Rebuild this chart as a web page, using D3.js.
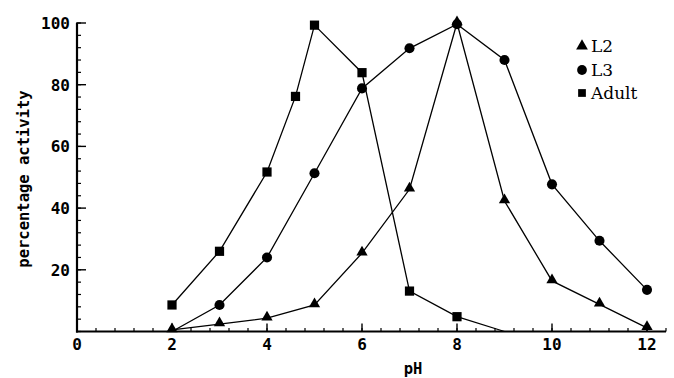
<!DOCTYPE html>
<html>
<head>
<meta charset="utf-8">
<script src="https://cdn.jsdelivr.net/npm/d3@7"></script>
<style>
  body { margin: 0; background: #fff; }
  svg { display: block; }
  .tick-label { font-family: "DejaVu Sans Mono", monospace; font-weight: bold; font-size: 16px; fill: #000; }
  .axis-title { font-family: "DejaVu Sans Mono", monospace; font-weight: bold; font-size: 15.5px; fill: #000; }
  .legend text { font-family: "DejaVu Serif", serif; font-size: 17px; fill: #000; }
</style>
</head>
<body>
<div id="chart"></div>
<script>
// pH values
const phL2 = [2, 3, 4, 5, 6, 7, 8, 9, 10, 11, 12];
const valL2 = [0.5, 2.4, 4.3, 8.6, 25.4, 46.1, 100, 42.3, 16.4, 8.8, 1.2];

const phL3 = [2, 3, 4, 5, 6, 7, 8, 9, 10, 11, 12];
const valL3 = [0, 8.6, 24, 51.3, 78.8, 91.8, 99.6, 88, 47.7, 29.4, 13.5];

const phAdult = [2, 3, 4, 4.6, 5, 6, 7, 8, 9];
const valAdult = [8.6, 26, 51.7, 76.2, 99.3, 83.9, 13.1, 4.8, 0];

const xTicks = [0, 2, 4, 6, 8, 10, 12];
const yTicks = [20, 40, 60, 80, 100];
const legendNames = ['L2', 'L3', 'Adult'];

const W = 674, H = 378;
const xAxisEnd = 12.4;

const svg = d3.select('#chart').append('svg')
  .attr('width', W).attr('height', H);

const x = d3.scaleLinear().domain([0, 12]).range([77, 647]);
const y = d3.scaleLinear().domain([0, 100]).range([331.5, 23]);

// -- axes
const minorX = d3.range(0, xAxisEnd + 0.001, 0.4);
const minorY = d3.range(0, 100.001, 4);

const gx = svg.append('g').attr('transform', 'translate(0,' + y(0) + ')');
gx.selectAll('.minor').data(minorX).enter().append('line')
  .attr('x1', d => x(d)).attr('x2', d => x(d))
  .attr('y1', 0).attr('y2', -3.5)
  .attr('stroke', '#000').attr('stroke-width', 1.2);
gx.selectAll('.major').data(xTicks).enter().append('line')
  .attr('x1', d => x(d)).attr('x2', d => x(d))
  .attr('y1', 0).attr('y2', -8)
  .attr('stroke', '#000').attr('stroke-width', 1.4);
gx.append('line')
  .attr('x1', x(0) - 1).attr('x2', x(xAxisEnd))
  .attr('stroke', '#000').attr('stroke-width', 2.2);
gx.selectAll('.tick-label').data(xTicks).enter().append('text')
  .attr('class', 'tick-label')
  .attr('x', d => x(d)).attr('y', 18)
  .attr('text-anchor', 'middle')
  .text(d => d);

const gy = svg.append('g').attr('transform', 'translate(' + x(0) + ',0)');
gy.selectAll('.minor').data(minorY).enter().append('line')
  .attr('y1', d => y(d)).attr('y2', d => y(d))
  .attr('x1', -1).attr('x2', 4)
  .attr('stroke', '#000').attr('stroke-width', 1.2);
gy.selectAll('.major').data(yTicks).enter().append('line')
  .attr('y1', d => y(d)).attr('y2', d => y(d))
  .attr('x1', 0).attr('x2', 9)
  .attr('stroke', '#000').attr('stroke-width', 1.4);
gy.append('line')
  .attr('y1', y(0) + 1).attr('y2', y(100))
  .attr('stroke', '#000').attr('stroke-width', 2.2);
gy.selectAll('.tick-label').data(yTicks).enter().append('text')
  .attr('class', 'tick-label')
  .attr('x', -7).attr('y', d => y(d) + 6)
  .attr('text-anchor', 'end')
  .text(d => d);

svg.append('text').attr('class', 'axis-title')
  .attr('transform', 'translate(29,' + 179 + ') rotate(-90)')
  .attr('text-anchor', 'middle')
  .text('percentage activity');

svg.append('text').attr('class', 'axis-title')
  .attr('x', 413).attr('y', 374)
  .attr('text-anchor', 'middle')
  .text('pH');

// -- lines and markers
const series = [
  {name: 'L2', xs: phL2, ys: valL2, shape: 'triangle'},
  {name: 'L3', xs: phL3, ys: valL3, shape: 'circle'},
  {name: 'Adult', xs: phAdult, ys: valAdult, shape: 'square'}
];

const line = d3.line().x(d => x(d[0])).y(d => y(d[1]));
const symbols = {
  triangle: d3.symbol().type(d3.symbolTriangle).size(55),
  circle: d3.symbol().type(d3.symbolCircle).size(80),
  square: d3.symbol().type(d3.symbolSquare).size(85)
};

series.forEach(s => {
  const pts = s.xs.map((v, i) => [v, s.ys[i]]);
  svg.append('path')
    .attr('d', line(pts))
    .attr('fill', 'none')
    .attr('stroke', '#000')
    .attr('stroke-width', 1.3);
  // points lying on the axis show no marker in the original
  svg.append('g').selectAll('path').data(pts.filter(d => d[1] > 0)).enter().append('path')
    .attr('d', symbols[s.shape])
    .attr('transform', d => 'translate(' + x(d[0]) + ',' + (y(d[1]) - (s.shape === 'triangle' ? 1 : 0)) + ')')
    .attr('fill', '#000');
});

// -- legend
const legend = svg.append('g').attr('class', 'legend');
const legendY = [46, 70, 93];
series.forEach((s, i) => {
  legend.append('path')
    .attr('d', d3.symbol().type(s.shape === 'triangle' ? d3.symbolTriangle : s.shape === 'circle' ? d3.symbolCircle : d3.symbolSquare)
      .size(s.shape === 'circle' ? 75 : 60))
    .attr('transform', 'translate(582,' + legendY[i] + ')')
    .attr('fill', '#000');
  legend.append('text')
    .attr('x', 591).attr('y', legendY[i] + 6)
    .text(legendNames[i]);
});
</script>
</body>
</html>
